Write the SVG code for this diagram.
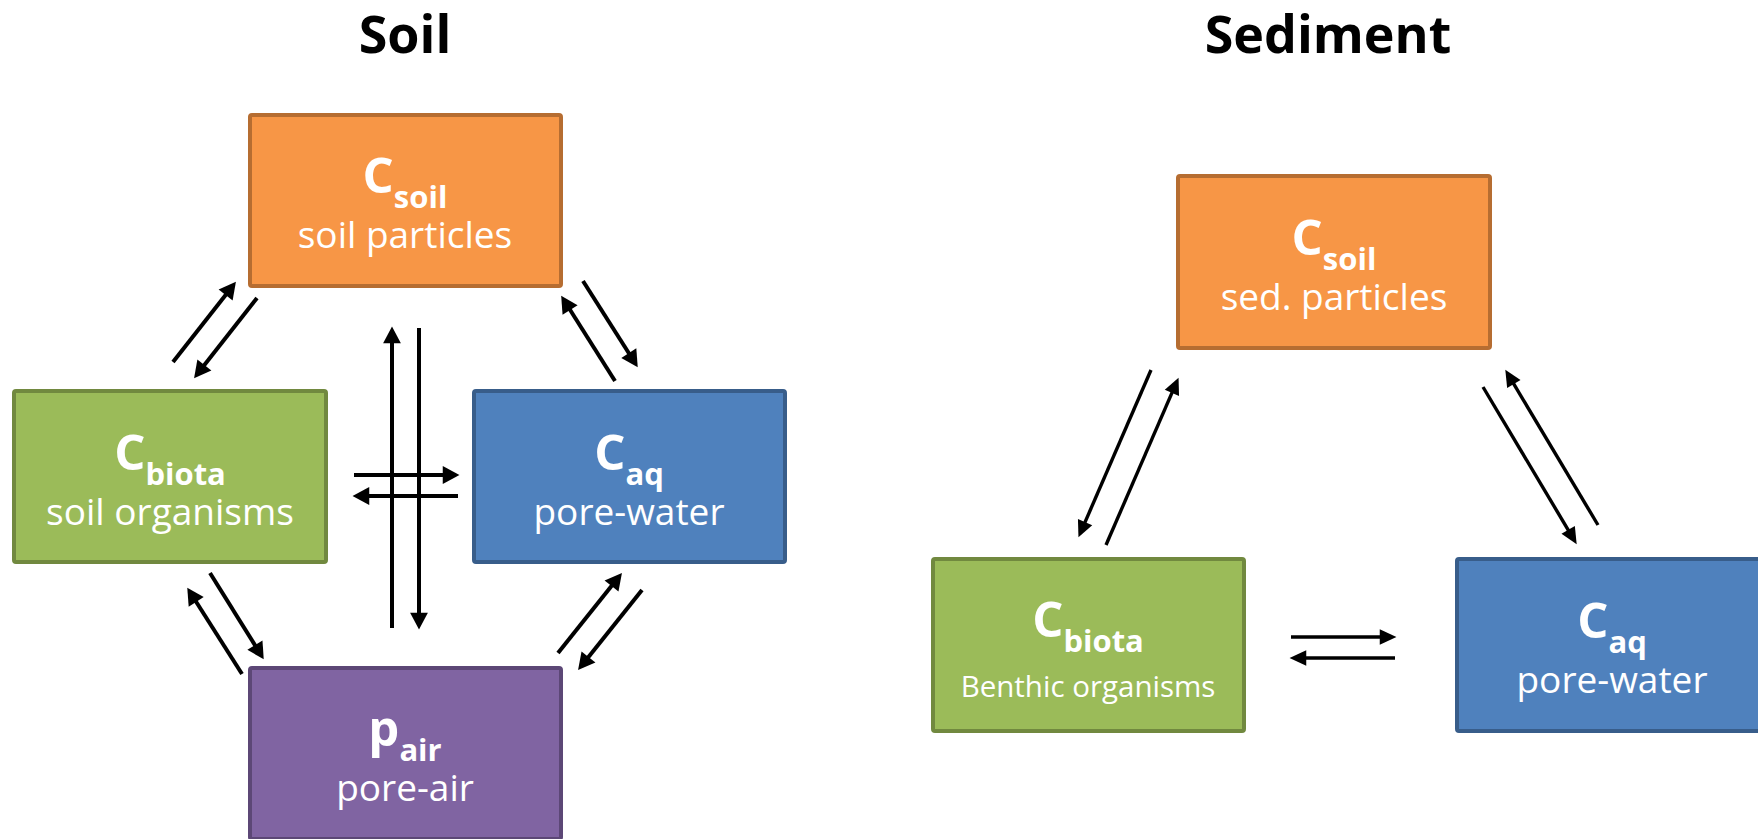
<svg xmlns="http://www.w3.org/2000/svg" width="1758" height="839" viewBox="0 0 1758 839">
<defs>
<style>
.title{font-family:"Open Sans","Liberation Sans",sans-serif;font-weight:bold;font-size:52px;fill:#000;text-anchor:middle}
.lbl{font-family:"Open Sans","Liberation Sans",sans-serif;font-weight:bold;fill:#fff;text-anchor:middle}
.big{font-size:49px}
.sub{font-size:31px}
.desc{font-family:"Open Sans","Liberation Sans",sans-serif;font-size:37px;fill:#fff;text-anchor:middle}
.desc.sm{font-size:29.5px}
.box{stroke-width:4}
.orange{fill:#F79646;stroke:#B66D31}
.green{fill:#9BBB59;stroke:#71893F}
.blue{fill:#4F81BD;stroke:#385D8A}
.purple{fill:#8064A2;stroke:#5C4776}
.a{stroke:#000;fill:none;stroke-width:4;marker-end:url(#ah)}
.b{stroke:#000;fill:none;stroke-width:3.4;marker-end:url(#ah2)}
</style>
<marker id="ah" markerUnits="userSpaceOnUse" markerWidth="20" markerHeight="20" viewBox="0 -9 16 18" refX="2" refY="0" orient="auto">
<path d="M0,-8 L15,0 L0,8 Z" fill="#000"/>
</marker>
<marker id="ah2" markerUnits="userSpaceOnUse" markerWidth="20" markerHeight="20" viewBox="0 -9 16 18" refX="2" refY="0" orient="auto">
<path d="M0,-7 L15,0 L0,7 Z" fill="#000"/>
</marker>
</defs>
<rect width="1758" height="839" fill="#fff"/>

<text class="title" x="405" y="53">Soil</text>
<text class="title" x="1328" y="53">Sediment</text>

<g id="soil-particles">
<rect class="box orange" x="250" y="115" width="311" height="171" rx="2"/>
<text class="lbl" x="405" y="193"><tspan class="big">C</tspan><tspan class="sub" dy="15">soil</tspan></text>
<text class="desc" x="405" y="248">soil particles</text>
</g>

<g id="soil-organisms">
<rect class="box green" x="14" y="391" width="312" height="171" rx="2"/>
<text class="lbl" x="170" y="470"><tspan class="big">C</tspan><tspan class="sub" dy="15">biota</tspan></text>
<text class="desc" x="170" y="525">soil organisms</text>
</g>

<g id="soil-porewater">
<rect class="box blue" x="474" y="391" width="311" height="171" rx="2"/>
<text class="lbl" x="629" y="470"><tspan class="big">C</tspan><tspan class="sub" dy="15">aq</tspan></text>
<text class="desc" x="629" y="525">pore-water</text>
</g>

<g id="soil-poreair">
<rect class="box purple" x="250" y="668" width="311" height="171" rx="2"/>
<text class="lbl" x="405" y="746"><tspan class="big">p</tspan><tspan class="sub" dy="15">air</tspan></text>
<text class="desc" x="405" y="801">pore-air</text>
</g>

<g id="sed-particles">
<rect class="box orange" x="1178" y="176" width="312" height="172" rx="2"/>
<text class="lbl" x="1334" y="255"><tspan class="big">C</tspan><tspan class="sub" dy="15">soil</tspan></text>
<text class="desc" x="1334" y="310">sed. particles</text>
</g>

<g id="sed-benthic">
<rect class="box green" x="933" y="559" width="311" height="172" rx="2"/>
<text class="lbl" x="1088" y="637"><tspan class="big">C</tspan><tspan class="sub" dy="15">biota</tspan></text>
<text class="desc sm" x="1088" y="697">Benthic organisms</text>
</g>

<g id="sed-porewater">
<rect class="box blue" x="1457" y="559" width="311" height="172" rx="2"/>
<text class="lbl" x="1612" y="638"><tspan class="big">C</tspan><tspan class="sub" dy="15">aq</tspan></text>
<text class="desc" x="1612" y="693">pore-water</text>
</g>

<g id="connectors">
<line class="a" x1="173" y1="362" x2="227" y2="293.2"/>
<line class="a" x1="257" y1="298" x2="203" y2="366.8"/>
<line class="a" x1="392" y1="628" x2="392" y2="341"/>
<line class="a" x1="419" y1="328" x2="419" y2="615"/>
<line class="a" x1="354" y1="475" x2="445" y2="475"/>
<line class="a" x1="458" y1="496" x2="367" y2="496"/>
<line class="a" x1="615" y1="381" x2="568.9" y2="308"/>
<line class="a" x1="583" y1="281" x2="630" y2="355"/>
<line class="a" x1="210" y1="573" x2="256.1" y2="647"/>
<line class="a" x1="242" y1="674" x2="195" y2="600"/>
<line class="a" x1="558" y1="653" x2="612.9" y2="584.2"/>
<line class="a" x1="642" y1="590" x2="587.1" y2="658.8"/>
<line class="b" x1="1151" y1="370" x2="1084.2" y2="524.1"/>
<line class="b" x1="1106" y1="545" x2="1172.8" y2="390.9"/>
<line class="b" x1="1483" y1="387" x2="1569.3" y2="531.8"/>
<line class="b" x1="1598" y1="525" x2="1512.7" y2="382.2"/>
<line class="b" x1="1291" y1="637" x2="1382" y2="637"/>
<line class="b" x1="1395" y1="658" x2="1304" y2="658"/>
</g>
</svg>
